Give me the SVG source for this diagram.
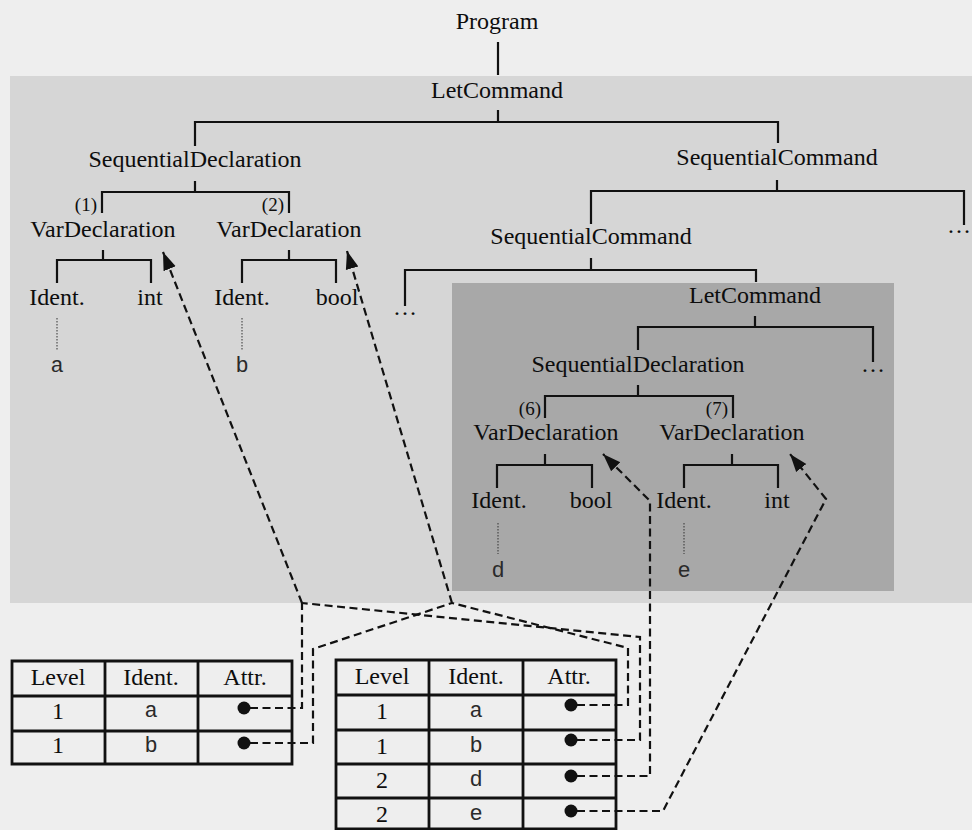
<svg xmlns="http://www.w3.org/2000/svg" width="972" height="830" viewBox="0 0 972 830">
<defs>
<style>
.n{font-family:"Liberation Serif","Times New Roman",serif;font-size:24px;fill:#0d0d0d;text-anchor:middle}
.s{font-family:"Liberation Serif","Times New Roman",serif;font-size:19px;fill:#0d0d0d;text-anchor:end}
.m{font-family:"Liberation Mono","Courier New",monospace;font-size:22px;fill:#2a2a2a;text-anchor:middle}
.t{fill:none;stroke:#111;stroke-width:2.2}
.d{fill:none;stroke:#111;stroke-width:2.2;stroke-dasharray:8 4.5}
.dt{fill:none;stroke:#333;stroke-width:1;stroke-dasharray:1.5 1.5}
.tb{fill:none;stroke:#111;stroke-width:2.8}
.dot{fill:#111}
</style>
<marker id="ah" markerUnits="userSpaceOnUse" markerWidth="20" markerHeight="16" viewBox="0 0 20 16" refX="18" refY="8" orient="auto">
<path d="M0 1.5 L18 8 L0 14.5 Z" fill="#111" stroke="none"/>
</marker>
</defs>
<rect x="0" y="0" width="972" height="830" fill="#eeeeee"/>
<rect x="10" y="76" width="962" height="527" fill="#d6d6d6"/>
<rect x="452" y="283" width="442" height="308" fill="#a8a8a8"/>

<g id="tree-lines">
<path class="t" d="M498 42V75"/>
<path class="t" d="M498 110V122M195 146V122H778V143"/>
<path class="t" d="M195 181V192M102 213V192H289V213"/>
<path class="t" d="M103 250V260M57 283V260H151V283"/>
<path class="t" d="M289 250V260M242 283V260H336V283"/>
<path class="t" d="M777 180V191M591 224V191H964V225"/>
<path class="t" d="M591 258V270M405 306V270H756V282"/>
<path class="t" d="M755 316V327M638 350V327H873V362"/>
<path class="t" d="M638 385V396M545 418V396H733V418"/>
<path class="t" d="M545 454V465M497 488V465H592V488"/>
<path class="t" d="M732 454V465M684 488V465H778V488"/>
<path class="dt" d="M57 318V351M242 318V351M498 523V554M684 523V554"/>
</g>

<g id="program"><text class="n" x="497" y="29">Program</text></g>
<g id="letcommand"><text class="n" x="497" y="98">LetCommand</text></g>
<g id="seqdecl1"><text class="n" x="195" y="167">SequentialDeclaration</text></g>
<g id="seqcmd1"><text class="n" x="777" y="165">SequentialCommand</text></g>
<g id="vardecl1"><text class="s" x="97" y="211">(1)</text><text class="n" x="103" y="237">VarDeclaration</text></g>
<g id="vardecl2"><text class="s" x="284" y="211">(2)</text><text class="n" x="289" y="237">VarDeclaration</text></g>
<g id="ident1"><text class="n" x="57" y="305">Ident.</text></g>
<g id="int1"><text class="n" x="150" y="305">int</text></g>
<g id="ident2"><text class="n" x="242" y="305">Ident.</text></g>
<g id="bool1"><text class="n" x="337" y="305">bool</text></g>
<g id="leaf-a"><text class="m" x="57" y="372">a</text></g>
<g id="leaf-b"><text class="m" x="242" y="372">b</text></g>
<g id="ellipsis-right"><text class="n" x="971" y="233" style="text-anchor:end">…</text></g>
<g id="seqcmd2"><text class="n" x="591" y="244">SequentialCommand</text></g>
<g id="ellipsis-mid"><text class="n" x="405" y="315">…</text></g>
<g id="letcommand2"><text class="n" x="755" y="303">LetCommand</text></g>
<g id="ellipsis-let"><text class="n" x="873" y="372">…</text></g>
<g id="seqdecl2"><text class="n" x="638" y="372">SequentialDeclaration</text></g>
<g id="vardecl6"><text class="s" x="541" y="415">(6)</text><text class="n" x="546" y="440">VarDeclaration</text></g>
<g id="vardecl7"><text class="s" x="728" y="415">(7)</text><text class="n" x="732" y="440">VarDeclaration</text></g>
<g id="ident6"><text class="n" x="499" y="508">Ident.</text></g>
<g id="bool6"><text class="n" x="591" y="508">bool</text></g>
<g id="ident7"><text class="n" x="684" y="508">Ident.</text></g>
<g id="int7"><text class="n" x="777" y="508">int</text></g>
<g id="leaf-d"><text class="m" x="498" y="577">d</text></g>
<g id="leaf-e"><text class="m" x="684" y="577">e</text></g>

<g id="table1">
<rect x="12" y="661" width="280" height="103" fill="#eeeeee"/>
<path class="tb" d="M12 661H292V764H12ZM105 661V764M198 661V764M12 696H292M12 731H292"/>
<text class="n" x="58" y="685">Level</text><text class="n" x="151" y="685">Ident.</text><text class="n" x="245" y="685">Attr.</text>
<text class="n" x="58" y="719">1</text><text class="m" x="151" y="717">a</text><circle class="dot" cx="244" cy="708" r="6.5"/>
<text class="n" x="58" y="753">1</text><text class="m" x="151" y="752">b</text><circle class="dot" cx="244" cy="743" r="6.5"/>
</g>

<g id="table2">
<rect x="336" y="660" width="280" height="172" fill="#eeeeee"/>
<path class="tb" d="M336 832V660H616V832M429 660V832M523 660V832M336 695H616M336 730H616M336 764H616M336 798H616M336 829H616"/>
<text class="n" x="382" y="684">Level</text><text class="n" x="476" y="684">Ident.</text><text class="n" x="569" y="684">Attr.</text>
<text class="n" x="382" y="719">1</text><text class="m" x="476" y="717">a</text><circle class="dot" cx="571" cy="705" r="6.5"/>
<text class="n" x="382" y="754">1</text><text class="m" x="476" y="752">b</text><circle class="dot" cx="571" cy="740" r="6.5"/>
<text class="n" x="382" y="788">2</text><text class="m" x="476" y="786">d</text><circle class="dot" cx="571" cy="776" r="6.5"/>
<text class="n" x="382" y="822">2</text><text class="m" x="476" y="820">e</text><circle class="dot" cx="571" cy="811" r="6.5"/>
</g>

<g id="connectors">
<path class="d" d="M302 603L163 252" marker-end="url(#ah)"/>
<path class="d" d="M452 603L347 251" marker-end="url(#ah)"/>
<path class="d" d="M250 708H302V603"/>
<path class="d" d="M250 743H313V649L452 603"/>
<path class="d" d="M577 705H628V648L452 603"/>
<path class="d" d="M577 740H640V637L302 603"/>
<path class="d" d="M577 776H650V501L603 454" marker-end="url(#ah)"/>
<path class="d" d="M577 811H663L826 499L790 454" marker-end="url(#ah)"/>
</g>
</svg>
